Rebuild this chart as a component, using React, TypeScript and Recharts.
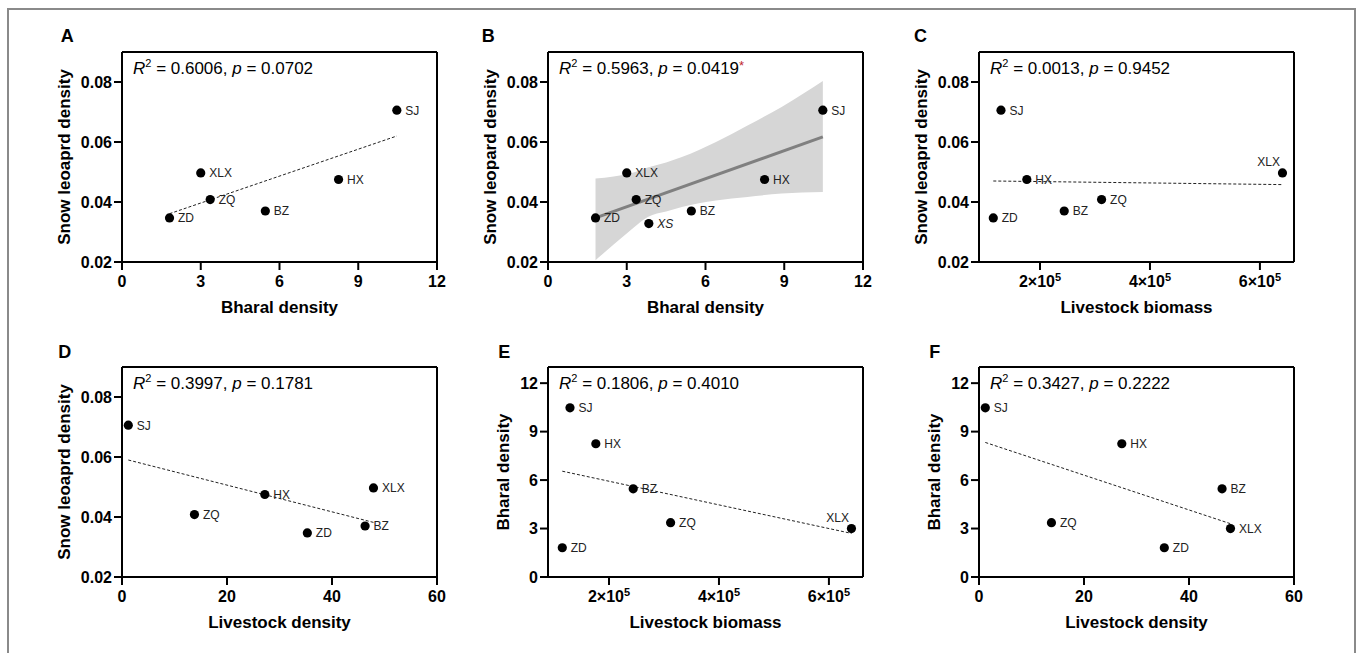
import React from 'react';
import { ComposedChart, XAxis, YAxis, Scatter, Area, ReferenceLine } from 'recharts';

// ---------- data ----------
const sites = ['SJ', 'XLX', 'HX', 'ZQ', 'BZ', 'ZD'];
const bharalDensity = [10.47, 3.0, 8.25, 3.36, 5.46, 1.81];
const snowLeopardDensity = [0.0706, 0.0497, 0.0475, 0.0408, 0.037, 0.0347];
const livestockBiomass = [129000, 641000, 176000, 312000, 244000, 115000];
const livestockDensity = [1.2, 47.9, 27.2, 13.8, 46.3, 35.3];

const extraSite = 'XS';
const extraBharal = 3.84;
const extraSnow = 0.0328;

const bharalTicks = [0, 3, 6, 9, 12];
const snowTicks = [0.02, 0.04, 0.06, 0.08];
const biomassTicks = [200000, 400000, 600000];
const densityTicks = [0, 20, 40, 60];

// regression line end points
const fitA = [{ x: 1.81, y: 0.0361 }, { x: 10.47, y: 0.062 }];
const fitB = [{ x: 1.81, y: 0.0347 }, { x: 10.47, y: 0.0617 }];
const fitC = [{ x: 115000, y: 0.047 }, { x: 641000, y: 0.0458 }];
const fitD = [{ x: 1.2, y: 0.059 }, { x: 47.9, y: 0.0382 }];
const fitE = [{ x: 115000, y: 6.55 }, { x: 641000, y: 2.7 }];
const fitF = [{ x: 1.2, y: 8.33 }, { x: 47.9, y: 3.3 }];

// confidence band of panel B
const bandX = [1.81, 2.5, 3.2, 3.8, 4.5, 5.1, 6.4, 7.6, 8.9, 10.47];
const bandLow = [0.0206, 0.0258, 0.031, 0.035, 0.0368, 0.0383, 0.0405, 0.0417, 0.0428, 0.0433];
const bandHigh = [0.0478, 0.0485, 0.0497, 0.0515, 0.0532, 0.055, 0.06, 0.0655, 0.0717, 0.0803];

const r2Values = ['0.6006', '0.5963', '0.0013', '0.3997', '0.1806', '0.3427'];
const pValues = ['0.0702', '0.0419', '0.9452', '0.1781', '0.4010', '0.2222'];

// ---------- layout ----------
const W = 315;
const H = 210;
const YW = 60;
const MT = 5;
const MR = 24;
const XH = 40;
const FONT = '"Liberation Sans", Arial, Helvetica, sans-serif';

const mk = (xs: number[], ys: number[], names: string[]) =>
  xs.map((x, i) => ({ x, y: ys[i], name: names[i] }));

const bandTable = bandX.map((x, i) => ({ x, range: [bandLow[i], bandHigh[i]] }));

type PanelProps = {
  left: number;
  top: number;
  points: { x: number; y: number; name: string }[];
  xDomain: [number, number];
  yDomain: [number, number];
  xTicks: number[];
  yTicks: number[];
  xFmt: 'plain' | 'sci';
  yFmt: (v: number) => string;
  fit: { x: number; y: number }[];
  band?: boolean;
  above?: string[];
};

const XTickPlain = (props: any) => {
  const { x, y, payload } = props;
  return (
    <text x={x} y={y} dy="0.71em" textAnchor="middle" fontFamily={FONT} fontWeight="bold" fontSize={16} fill="#000">
      {String(payload.value)}
    </text>
  );
};

const XTickSci = (props: any) => {
  const { x, y, payload } = props;
  const m = Math.round(payload.value / 100000);
  return (
    <text x={x} y={y} dy="0.71em" textAnchor="middle" fontFamily={FONT} fontWeight="bold" fontSize={16} fill="#000">
      <tspan>{`${m}×10`}</tspan>
      <tspan dy={-6} fontSize={11}>5</tspan>
    </text>
  );
};

const makeYTick = (fmt: (v: number) => string) => (props: any) => {
  const { x, y, payload } = props;
  return (
    <text x={x} y={y} dy="0.36em" textAnchor="end" fontFamily={FONT} fontWeight="bold" fontSize={16} fill="#000">
      {fmt(payload.value)}
    </text>
  );
};

const makeShape = (above: string[]) => (props: any) => {
  const { cx, cy, payload } = props;
  const name = payload?.name ?? '';
  const isAbove = above.includes(name);
  return (
    <g>
      <circle cx={cx} cy={cy} r={4.6} fill="#000" />
      <text
        x={isAbove ? cx - 2.5 : cx + 8.5}
        y={isAbove ? cy - 6.5 : cy + 4.3}
        textAnchor={isAbove ? 'end' : 'start'}
        fontFamily={FONT}
        fontSize={12}
        fontStyle={name === 'XS' ? 'italic' : 'normal'}
        fill="#222"
      >
        {name}
      </text>
    </g>
  );
};

function Panel(p: PanelProps) {
  const YTick = makeYTick(p.yFmt);
  const shape = makeShape(p.above ?? []);
  return (
    <div style={{ position: 'absolute', left: p.left - YW, top: p.top - MT }}>
      <ComposedChart
        width={YW + W + MR}
        height={MT + H + XH}
        data={p.band ? bandTable : []}
        margin={{ top: MT, right: MR, bottom: 0, left: 0 }}
      >
        <XAxis
          type="number"
          dataKey="x"
          domain={p.xDomain}
          ticks={p.xTicks}
          allowDataOverflow
          height={XH}
          tickSize={8}
          tickMargin={6}
          axisLine={{ stroke: '#000', strokeWidth: 2 }}
          tickLine={{ stroke: '#000', strokeWidth: 2 }}
          tick={p.xFmt === 'sci' ? <XTickSci /> : <XTickPlain />}
          interval={0}
        />
        <YAxis
          type="number"
          dataKey="y"
          domain={p.yDomain}
          ticks={p.yTicks}
          allowDataOverflow
          width={YW}
          tickSize={8}
          tickMargin={2}
          axisLine={{ stroke: '#000', strokeWidth: 2 }}
          tickLine={{ stroke: '#000', strokeWidth: 2 }}
          tick={<YTick />}
          interval={0}
        />
        {p.band && (
          <Area
            type="monotone"
            dataKey="range"
            stroke="none"
            fill="#d6d6d6"
            fillOpacity={1}
            isAnimationActive={false}
            activeDot={false}
            dot={false}
          />
        )}
        <ReferenceLine y={p.yDomain[1]} stroke="#000" strokeWidth={2} />
        <ReferenceLine x={p.xDomain[1]} stroke="#000" strokeWidth={2} />
        <ReferenceLine
          segment={[p.fit[0], p.fit[1]]}
          stroke={p.band ? '#808080' : '#222'}
          strokeWidth={p.band ? 3 : 1}
          strokeDasharray={p.band ? undefined : '3 2'}
        />
        <Scatter data={p.points} fill="#000" shape={shape} isAnimationActive={false} />
      </ComposedChart>
    </div>
  );
}

const snowFmt = (v: number) => v.toFixed(2);
const intFmt = (v: number) => String(v);

const bharalDom: [number, number] = [0, 12];
const snowDom: [number, number] = [0.02, 0.09];
const biomassDom: [number, number] = [89000, 662000];
const densityDom: [number, number] = [0, 60];
const bharalYDom: [number, number] = [0, 13];

const panels = [
  { key: 'A', left: 122, top: 52 },
  { key: 'B', left: 548, top: 52 },
  { key: 'C', left: 979, top: 52 },
  { key: 'D', left: 122, top: 367 },
  { key: 'E', left: 548, top: 367 },
  { key: 'F', left: 979, top: 367 },
];

const letters = [
  { t: 'A', x: 60.7, y: 41.7 },
  { t: 'B', x: 481.7, y: 41.7 },
  { t: 'C', x: 914, y: 41.7 },
  { t: 'D', x: 58.3, y: 357.7 },
  { t: 'E', x: 498.3, y: 357.7 },
  { t: 'F', x: 929.3, y: 357.7 },
];

const xTitles = ['Bharal density', 'Bharal density', 'Livestock biomass', 'Livestock density', 'Livestock biomass', 'Livestock density'];
const yTitles = ['Snow leoaprd density', 'Snow leopard density', 'Snow leoaprd density', 'Snow leoaprd density', 'Bharal density', 'Bharal density'];
const yTitleOffsets = [52, 52, 52, 52, 39, 39];

export default function App() {
  const snowPts = mk(bharalDensity, snowLeopardDensity, sites);
  const snowPtsB = [...snowPts, { x: extraBharal, y: extraSnow, name: extraSite }];
  return (
    <div style={{ position: 'absolute', left: 0, top: 0, width: 1357, height: 653, background: '#fff', overflow: 'hidden' }}>
      <div
        style={{
          position: 'absolute',
          left: 7,
          top: 8,
          width: 1349,
          height: 720,
          border: '2px solid #8a8a8a',
          boxSizing: 'border-box',
        }}
      />
      <Panel left={122} top={52} points={snowPts} xDomain={bharalDom} yDomain={snowDom} xTicks={bharalTicks} yTicks={snowTicks} xFmt="plain" yFmt={snowFmt} fit={fitA} />
      <Panel left={548} top={52} points={snowPtsB} xDomain={bharalDom} yDomain={snowDom} xTicks={bharalTicks} yTicks={snowTicks} xFmt="plain" yFmt={snowFmt} fit={fitB} band />
      <Panel left={979} top={52} points={mk(livestockBiomass, snowLeopardDensity, sites)} xDomain={biomassDom} yDomain={snowDom} xTicks={biomassTicks} yTicks={snowTicks} xFmt="sci" yFmt={snowFmt} fit={fitC} above={['XLX']} />
      <Panel left={122} top={367} points={mk(livestockDensity, snowLeopardDensity, sites)} xDomain={densityDom} yDomain={snowDom} xTicks={densityTicks} yTicks={snowTicks} xFmt="plain" yFmt={snowFmt} fit={fitD} />
      <Panel left={548} top={367} points={mk(livestockBiomass, bharalDensity, sites)} xDomain={biomassDom} yDomain={bharalYDom} xTicks={biomassTicks} yTicks={bharalTicks} xFmt="sci" yFmt={intFmt} fit={fitE} above={['XLX']} />
      <Panel left={979} top={367} points={mk(livestockDensity, bharalDensity, sites)} xDomain={densityDom} yDomain={bharalYDom} xTicks={densityTicks} yTicks={bharalTicks} xFmt="plain" yFmt={intFmt} fit={fitF} />

      <svg width={1357} height={653} style={{ position: 'absolute', left: 0, top: 0, pointerEvents: 'none' }}>
        {letters.map((l) => (
          <text key={l.t} x={l.x} y={l.y} fontFamily={FONT} fontWeight="bold" fontSize={18} fill="#000">
            {l.t}
          </text>
        ))}
        {panels.map((pn, i) => (
          <g key={pn.key}>
            <text x={pn.left + W / 2} y={pn.top + H + 50.5} textAnchor="middle" fontFamily={FONT} fontWeight="bold" fontSize={17} fill="#000">
              {xTitles[i]}
            </text>
            <text
              x={pn.left - yTitleOffsets[i]}
              y={pn.top + H / 2}
              textAnchor="middle"
              transform={`rotate(-90 ${pn.left - yTitleOffsets[i]} ${pn.top + H / 2})`}
              fontFamily={FONT}
              fontWeight="bold"
              fontSize={17}
              fill="#000"
            >
              {yTitles[i]}
            </text>
            <text x={pn.left + 11} y={pn.top + 22} fontFamily={FONT} fontSize={17} fill="#000">
              <tspan fontStyle="italic">R</tspan>
              <tspan dy={-7} fontSize={11}>2</tspan>
              <tspan dy={7}>{` = ${r2Values[i]}, `}</tspan>
              <tspan fontStyle="italic">p</tspan>
              <tspan>{` = ${pValues[i]}`}</tspan>
              {i === 1 && (
                <tspan dy={-4} fontSize={13} fill="#c0272d">*</tspan>
              )}
            </text>
          </g>
        ))}
      </svg>
    </div>
  );
}
